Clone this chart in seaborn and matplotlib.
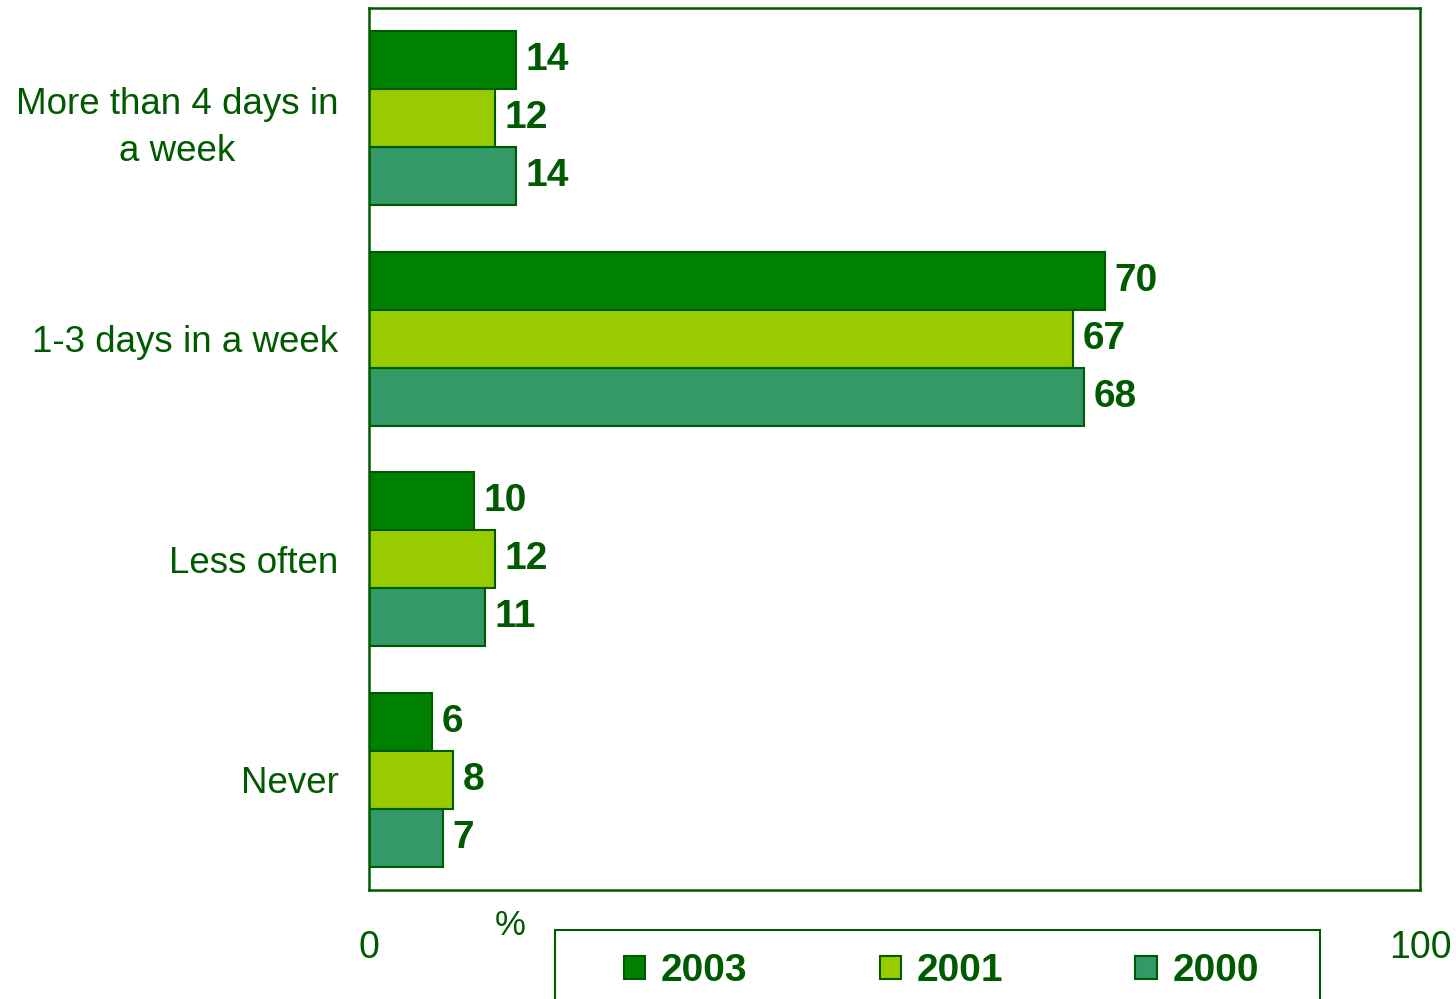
import matplotlib
matplotlib.use("Agg")
import matplotlib.pyplot as plt
import pandas as pd
import seaborn as sns
from matplotlib.patches import Rectangle

categories = ["More than 4 days in\na week", "1-3 days in a week", "Less often", "Never"]
years = ["2003", "2001", "2000"]
v2003 = [14, 70, 10, 6]
v2001 = [12, 67, 12, 8]
v2000 = [14, 68, 11, 7]

colors = ["#008000", "#99cc00", "#339966"]
dark = "#005a00"

df = pd.DataFrame({
    "category": categories * 3,
    "year": [y for y in years for _ in categories],
    "value": v2003 + v2001 + v2000,
})

sns.set_style("white")
plt.rcParams["font.family"] = ["Liberation Sans", "DejaVu Sans"]

fig = plt.figure(figsize=(14.56, 9.99), dpi=100)
ax = fig.add_axes([0.2534, 0.1091, 0.7219, 0.8829])

sns.barplot(data=df, x="value", y="category", hue="year", hue_order=years,
            order=categories, palette=colors, orient="h", width=0.79,
            edgecolor=dark, linewidth=1.5, saturation=1, ax=ax, legend=True)

for c in ax.containers:
    ax.bar_label(c, padding=7, fontsize=28, fontweight="bold", color=dark)

ax.set_xlim(0, 100)
ax.set_ylim(3.5, -0.5)
ax.set_xlabel("")
ax.set_ylabel("")
ax.set_xticks([0, 100])
ax.set_xticklabels(["0", "100"])
ax.tick_params(axis="x", length=0, pad=29, labelsize=27, labelcolor=dark)
ax.tick_params(axis="y", length=0, pad=22, labelsize=26.5, labelcolor=dark)
for lab in ax.get_yticklabels():
    lab.set_multialignment("center")
    lab.set_linespacing(1.45)
for s in ax.spines.values():
    s.set_visible(True)
    s.set_color(dark)
    s.set_linewidth(1.8)

ax.text(0.134, -0.04, "%", transform=ax.transAxes, ha="center", va="center",
        fontsize=25, color=dark)

# legend box (runs off the bottom edge like the original)
fig.patches.append(Rectangle((0.3812, -0.03), 0.5254, 0.099, transform=fig.transFigure,
                             fill=False, edgecolor=dark, linewidth=1.5))

ax.get_legend().remove()
leg = fig.legend(*ax.get_legend_handles_labels(), loc="center left",
                 bbox_to_anchor=(0.4286, 1 - 971 / 999), ncol=3, frameon=False,
                 prop={"size": 28, "weight": "bold"},
                 handlelength=0.55, handleheight=0.55, handletextpad=0.4,
                 columnspacing=3.4, borderpad=0, borderaxespad=0)
for t in leg.get_texts():
    t.set_color(dark)

fig.savefig("out.png", dpi=100)
